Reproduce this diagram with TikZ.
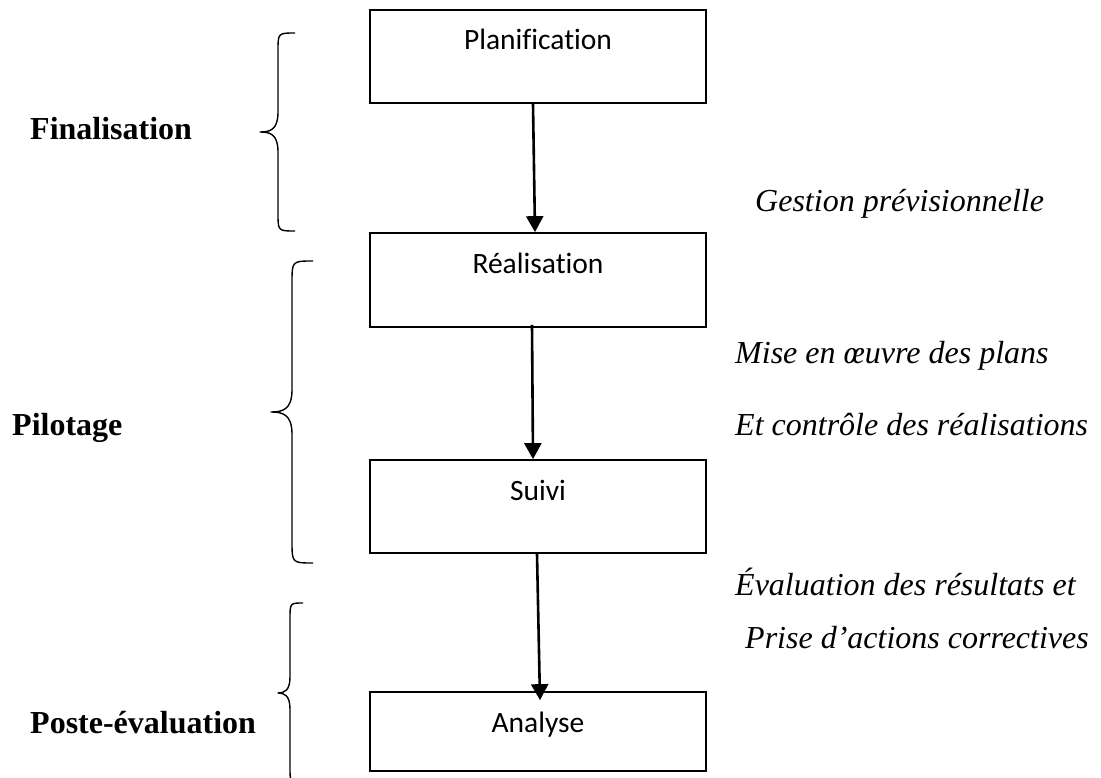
\documentclass[tikz,border=0pt]{standalone}
\usepackage{fontspec}
\setmainfont{Liberation Serif}
\newfontfamily\boxfont[Ligatures={NoCommon,NoContextual}]{Carlito}
\usetikzlibrary{arrows.meta}

\begin{document}
\begin{tikzpicture}[x=1pt,y=-1pt,
  stage/.style={draw, line width=1.7pt, minimum width=336pt, inner xsep=0pt,
    inner ysep=0pt, text height=40pt, font=\boxfont\fontsize{29.5}{35}\selectfont},
  phase/.style={anchor=base west, inner sep=0pt, font=\bfseries\fontsize{32}{38}\selectfont},
  note/.style={anchor=base west, inner sep=0pt, font=\itshape\fontsize{32}{38}\selectfont},
  arr/.style={-{Triangle[width=17pt,length=16pt]}, line width=2.6pt},
  brace/.style={line width=1.4pt, line join=round}]

\useasboundingbox (0,0) rectangle (1101,778);
\clip (0,0) rectangle (1101,778);

% process boxes
\node[stage, text depth=53pt] (plan)  at (538,56.5)  {Planification};
\node[stage, text depth=54pt] (real)  at (538,280)   {Réalisation};
\node[stage, text depth=53pt] (suivi) at (538,506.5) {Suivi};
\node[stage, text depth=39pt] (ana)   at (538,731.5) {Analyse};

% flow between the stages
\draw[arr] ([xshift=-5pt]plan.south) -- ([xshift=-3pt]real.north);
\draw[arr] ([xshift=-6pt,yshift=3pt]real.south) -- ([xshift=-5pt]suivi.north);
\draw[arr] ([xshift=-1pt]suivi.south) -- ([xshift=2pt,yshift=-9pt]ana.north);

% braces grouping the stages
\draw[brace] (295,33) .. controls (278,33) .. (278,51) -- (278,112)
  .. controls (278,130) and (270,132) .. (260,132) .. controls (270,132) and (278,134) .. (278,152)
  -- (278,213) .. controls (278,231) .. (295,231);
\draw[brace] (313,261) .. controls (292,261) .. (292,283) -- (292,390)
  .. controls (292,410) and (282,412) .. (271,412) .. controls (282,412) and (292,414) .. (292,434)
  -- (292,541) .. controls (292,563) .. (313,563);
\draw[brace] (303,603) .. controls (290,603) .. (290,619) -- (290,677)
  .. controls (290,691) and (284,693) .. (278,693) .. controls (284,693) and (290,695) .. (290,709)
  -- (290,767) .. controls (290,783) .. (303,783);

% phase names
\node[phase] (fin)  at (30,140) {Finalisation};
\node[phase] (pil)  at (12,435) {Pilotage};
\node[phase] (post) at (30,733) {Poste-évaluation};

% descriptions
\node[note] (n1) at (755,212) {Gestion prévisionnelle};
\node[note] (n2) at (735,363) {Mise en œuvre des plans};
\node[note] (n3) at (735,435) {Et contrôle des réalisations};
\node[note] (n4) at (735,595) {Évaluation des résultats et};
\node[note] (n5) at (745,648) {Prise d’actions correctives};
\end{tikzpicture}
\end{document}
